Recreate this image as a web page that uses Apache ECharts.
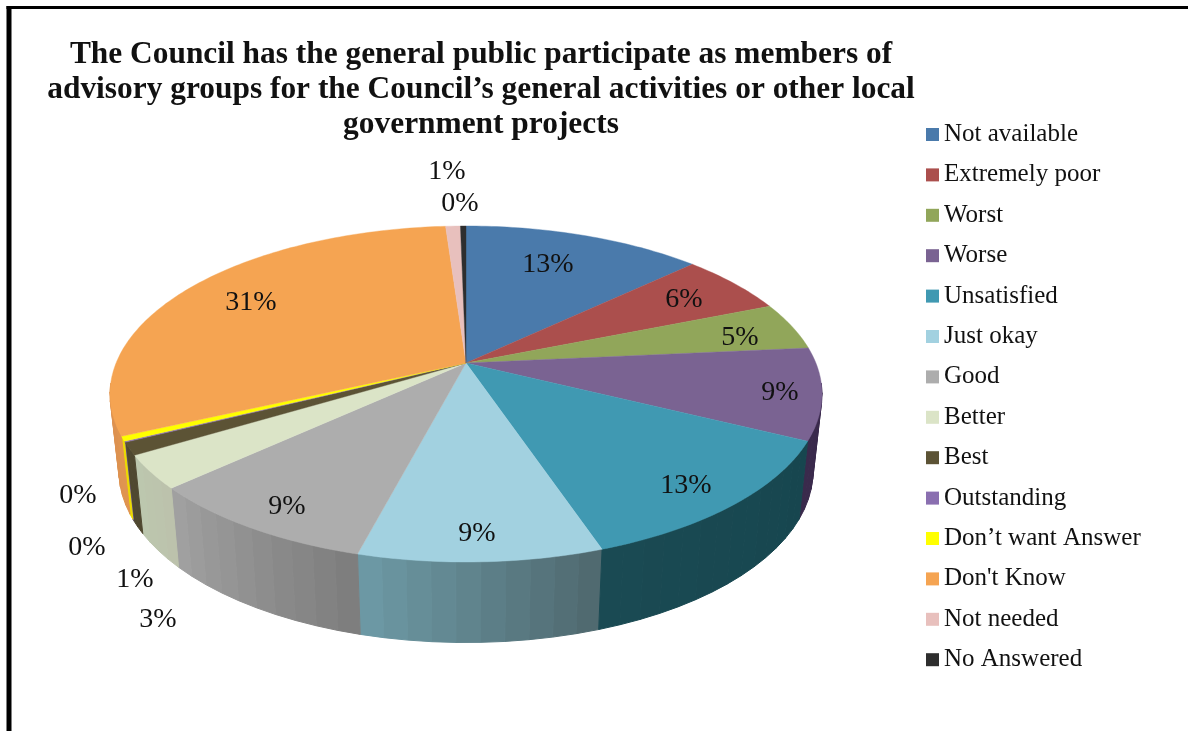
<!DOCTYPE html>
<html>
<head>
<meta charset="utf-8">
<style>html,body{margin:0;padding:0;background:#fff}#chart{width:1188px;height:731px}</style>
<script src="https://cdn.jsdelivr.net/npm/echarts@6/dist/echarts.min.js"></script>
</head>
<body>
<div id="chart"></div>
<script>
// Survey responses, in percent
const categories = ['Not available','Extremely poor','Worst','Worse','Unsatisfied','Just okay','Good','Better','Best','Outstanding','Don’t want Answer',"Don't Know",'Not needed','No Answered'];
const shares = [13.0,5.9,4.6,8.8,12.5,9.3,9.1,3.2,1.2,0.1,0.45,30.75,0.8,0.3];
const titleLines = ['The Council has the general public participate as members of','advisory groups for the Council’s general activities or other local','government projects'];

// Face colours, and the [clockwise start, clockwise end] shading of each outer wall
const faceColors = ['#4a7aab','#ab4f4d','#91a65a','#7a6392','#4099b2','#a2d1e0','#adadad','#dbe4c7','#5c5335','#8a6fb0','#ffff00','#f5a452','#e8c0bd','#2e2e2e'];
const wallShades = [
  ['#2d4a68','#2d4a68'],['#683030','#683030'],['#586537','#586537'],['#3a2a4c','#3a2a4c'],
  ['#17464f','#1a4a53'],['#506a70','#6c98a4'],['#7e7e7e','#a0a0a0'],['#bcc2ac','#bcc7ae'],
  ['#4f4830','#4f4830'],['#6f5a90','#6f5a90'],['#ecdc00','#ecdc00'],['#e09450','#dd9250'],
  ['#c8a09e','#c8a09e'],['#222222','#222222']
];

// Label centres: pie-face labels first, then the ones pulled outside the disc
const labelCentres = [[548,265],[684,300],[740,338],[780,393],[686,486],[477,534],[287,507],[158,620],[135,580],[87,548],[78,496],[251,303],[447,172],[460,204]];

// Perspective disc: centre, projected radii and foreshortening towards the viewer
const disc = {cx:466, cy:363, a:349.9, b:162.3, k:0.1845, narrowing:0.975, wall:76, wallGrow:4.5};
const TOTAL = shares.reduce((s,v)=>s+v,0);
const startOf = i => shares.slice(0,i).reduce((s,v)=>s+v,0);
const angleAt = pct => pct/TOTAL*Math.PI*2;

function rim(theta){
  const u=Math.sin(theta), v=-Math.cos(theta), w=1-disc.k*v;
  return {x:disc.a*u/w, y:disc.b*v/w, v};
}
const topPoint = t => { const p=rim(t); return [disc.cx+p.x, disc.cy+p.y]; };
const basePoint = t => { const p=rim(t); return [disc.cx+p.x*disc.narrowing, disc.cy+p.y+disc.wall+disc.wallGrow*p.v]; };

function mix(c1,c2,t){
  const n=c=>[1,3,5].map(i=>parseInt(c.substr(i,2),16));
  const a=n(c1), b=n(c2);
  return 'rgb('+a.map((x,i)=>Math.round(x+(b[i]-x)*t)).join(',')+')';
}

const WALL_FROM = 97*Math.PI/180, WALL_TO = 263*Math.PI/180, BAND = 3.4*Math.PI/180;

function drawSlice(params, api){
  const i = params.seriesIndex, value = api.value(0);
  const t0 = angleAt(startOf(i)), t1 = t0+angleAt(value);
  const children = [];

  // outer wall, as narrow shaded bands
  const w0 = Math.max(t0,WALL_FROM), w1 = Math.min(t1,WALL_TO);
  if (w1>w0){
    const n = Math.max(1,Math.ceil((w1-w0)/BAND));
    for (let s=0;s<n;s++){
      const a=w0+(w1-w0)*s/n, b=w0+(w1-w0)*(s+1)/n;
      const fill = mix(wallShades[i][0],wallShades[i][1],n>1?s/(n-1):0);
      children.push({type:'polygon',silent:true,z2:1+s*0.001+i*0.01,
        shape:{points:[topPoint(a),topPoint(b),basePoint(b),basePoint(a)]},
        style:{fill,stroke:fill,lineWidth:1}});
    }
  }

  // top face
  const steps = Math.max(2,Math.ceil((t1-t0)/(Math.PI/180)));
  const pts = [[disc.cx,disc.cy]];
  for (let s=0;s<=steps;s++) pts.push(topPoint(t0+(t1-t0)*s/steps));
  children.push({type:'polygon',silent:true,z2:10,shape:{points:pts},
    style:{fill:faceColors[i],stroke:faceColors[i],lineWidth:0.4}});

  // percentage label
  children.push({type:'text',silent:true,z2:20,style:{
    x:labelCentres[i][0],y:labelCentres[i][1],text:Math.round(value)+'%',
    fill:'#111',font:'28px "Liberation Serif"',align:'center',verticalAlign:'middle'}});
  return {type:'group',children};
}

const chart = echarts.init(document.getElementById('chart'),null,{renderer:'canvas'});
chart.setOption({
  animation:false,
  backgroundColor:'#fff',
  title:{
    text:titleLines.join('\n'),left:476,top:32,textAlign:'center',
    textStyle:{fontFamily:'Liberation Serif',fontWeight:'bold',fontSize:31.4,lineHeight:35,color:'#111'}
  },
  legend:{
    orient:'vertical',left:921,top:117,itemWidth:13,itemHeight:13,itemGap:15.4,
    icon:'rect',data:categories,selectedMode:false,
    textStyle:{fontFamily:'Liberation Serif',fontSize:25,lineHeight:24,color:'#111'}
  },
  graphic:[
    {type:'rect',shape:{x:6.5,y:6,width:1182,height:3},style:{fill:'#000'},silent:true},
    {type:'rect',shape:{x:6.5,y:6,width:5,height:725},style:{fill:'#000'},silent:true}
  ],
  series:categories.map((name,i)=>({
    type:'custom',name,coordinateSystem:'none',renderItem:drawSlice,
    data:[[shares[i]]],itemStyle:{color:faceColors[i]},silent:true
  }))
});
</script>
</body>
</html>
